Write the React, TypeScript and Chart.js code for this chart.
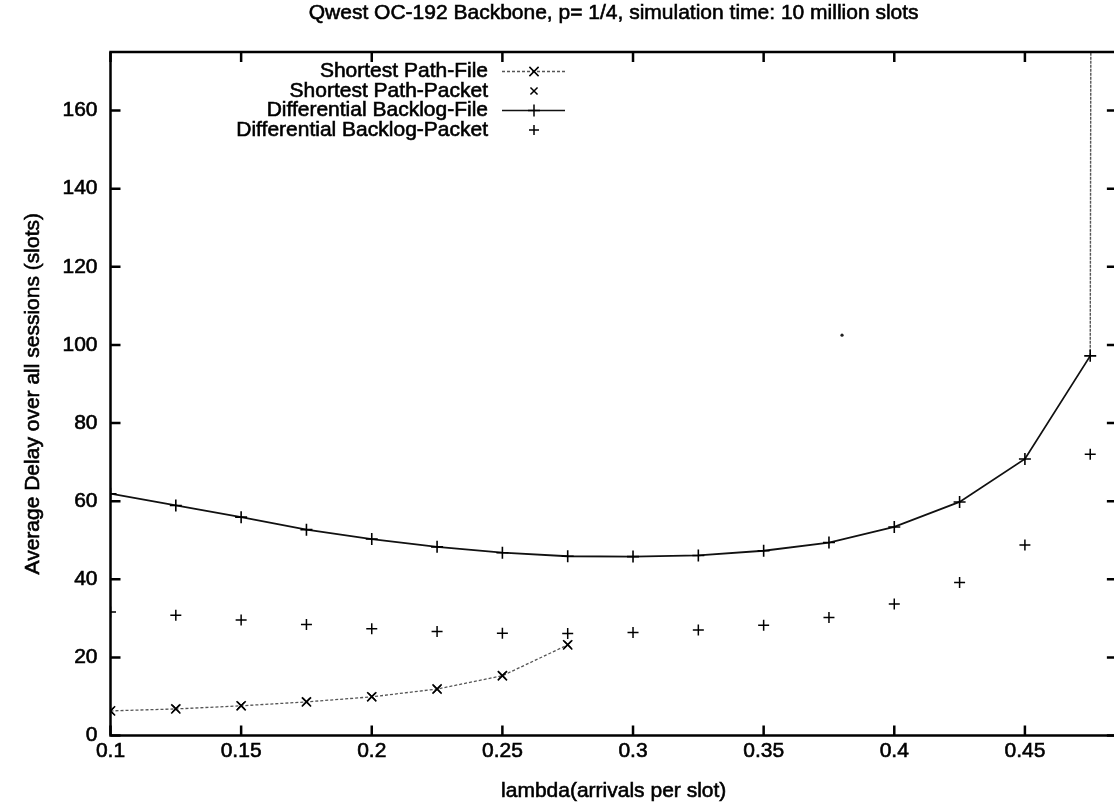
import React, { useEffect, useRef } from 'react';
import { Chart, registerables } from 'chart.js';

Chart.register(...registerables);

// ---- data ----
const lambdas = [0.1, 0.125, 0.15, 0.175, 0.2, 0.225, 0.25, 0.275, 0.3, 0.325, 0.35, 0.375, 0.4, 0.425, 0.45, 0.475];
const shortestLambdas = [0.1, 0.125, 0.15, 0.175, 0.2, 0.225, 0.25, 0.275];
const shortestPathFile = [6.3, 6.8, 7.6, 8.6, 9.9, 11.9, 15.3, 23.2];
const shortestPathPacket = [6.3, 6.9, 7.7, 8.7, 10.0, 11.9, 15.4, 23.3];
const diffBacklogFile = [61.9, 58.9, 55.9, 52.7, 50.3, 48.3, 46.8, 45.9, 45.8, 46.1, 47.3, 49.4, 53.4, 59.8, 70.8, 97.2];
const diffBacklogFileOverflow = { lambda: 0.5, delay: 20000 }; // off-scale point that gives the vertical rise
const diffBacklogPacket = [31.6, 30.8, 29.6, 28.4, 27.3, 26.6, 26.2, 26.1, 26.4, 27.0, 28.2, 30.2, 33.7, 39.2, 48.8, 72.0];
const strayDot = { lambda: 0.38, delay: 102.5 };

const xTickValues = [0.1, 0.15, 0.2, 0.25, 0.3, 0.35, 0.4, 0.45];
const yTickValues = [0, 20, 40, 60, 80, 100, 120, 140, 160];
const xRange = { min: 0.1, max: 0.4841, frame: 0.4852 };
const yRange = { min: 0, max: 175 };

const titleText = 'Qwest OC-192 Backbone, p= 1/4, simulation time: 10 million slots';
const xTitle = 'lambda(arrivals per slot)';
const yTitle = 'Average Delay over all sessions (slots)';
const legendLabels = ['Shortest Path-File', 'Shortest Path-Packet', 'Differential Backlog-File', 'Differential Backlog-Packet'];

const FONT_FAMILY = '"Liberation Sans", Arial, Helvetica, sans-serif';
const FONT_SIZE = 21;
const TEXT_STROKE = 0.6;

function drawMarker(ctx: CanvasRenderingContext2D, style: string, x: number, y: number, r: number) {
  ctx.beginPath();
  if (style === 'cross') {
    ctx.moveTo(x - r, y);
    ctx.lineTo(x + r, y);
    ctx.moveTo(x, y - r);
    ctx.lineTo(x, y + r);
  } else {
    const d = r * Math.SQRT1_2;
    ctx.moveTo(x - d, y - d);
    ctx.lineTo(x + d, y + d);
    ctx.moveTo(x - d, y + d);
    ctx.lineTo(x + d, y - d);
  }
  ctx.stroke();
}

function heavyText(ctx: CanvasRenderingContext2D, text: string, x: number, y: number) {
  ctx.fillText(text, x, y);
  ctx.lineWidth = TEXT_STROKE;
  ctx.strokeText(text, x, y);
}

const framePlugin = {
  id: 'gnuplotFrame',
  afterDraw(chart: any) {
    const { ctx, chartArea, scales } = chart;
    const { left, top, bottom } = chartArea;
    const right = scales.x.getPixelForValue(xRange.frame);
    ctx.save();
    ctx.strokeStyle = '#000';
    ctx.lineWidth = 2.5;
    ctx.strokeRect(left, top, right - left, bottom - top);
    const tl = 10;
    ctx.beginPath();
    for (const v of xTickValues) {
      const px = scales.x.getPixelForValue(v);
      ctx.moveTo(px, bottom);
      ctx.lineTo(px, bottom - tl);
      ctx.moveTo(px, top);
      ctx.lineTo(px, top + tl);
    }
    for (const v of yTickValues) {
      const py = scales.y.getPixelForValue(v);
      ctx.moveTo(left, py);
      ctx.lineTo(left + tl, py);
      ctx.moveTo(right, py);
      ctx.lineTo(right - tl, py);
    }
    ctx.stroke();

    ctx.fillStyle = '#000';
    ctx.strokeStyle = '#000';
    ctx.font = `${FONT_SIZE}px ${FONT_FAMILY}`;
    ctx.textBaseline = 'middle';

    const midX = (left + right) / 2;
    ctx.textAlign = 'center';
    heavyText(ctx, titleText, midX, 13);
    heavyText(ctx, xTitle, midX, 791);
    ctx.save();
    ctx.translate(33, (top + bottom) / 2);
    ctx.rotate(-Math.PI / 2);
    heavyText(ctx, yTitle, 0, 0);
    ctx.restore();

    // legend (gnuplot style: right-aligned text, sample to the right)
    const textRight = 488;
    const sampleL = 502;
    const sampleR = 565;
    const sampleMid = 534;
    const rowY = [71.5, 91, 110.5, 130];
    const samples = [
      { line: true, dash: [3, 2], color: '#555', width: 1.3, marker: 'crossRot', r: 6.5 },
      { line: false, dash: [], color: '#000', width: 1.3, marker: 'crossRot', r: 5 },
      { line: true, dash: [], color: '#111', width: 1.6, marker: 'cross', r: 6 },
      { line: false, dash: [], color: '#000', width: 1.3, marker: 'cross', r: 5 },
    ];
    ctx.textAlign = 'right';
    legendLabels.forEach((label, i) => {
      const y = rowY[i];
      ctx.fillStyle = '#000';
      ctx.strokeStyle = '#000';
      heavyText(ctx, label, textRight, y);
      const s = samples[i];
      if (s.line) {
        ctx.save();
        ctx.strokeStyle = s.color;
        ctx.lineWidth = s.width;
        ctx.setLineDash(s.dash);
        ctx.beginPath();
        ctx.moveTo(sampleL, y);
        ctx.lineTo(sampleR, y);
        ctx.stroke();
        ctx.restore();
      }
      ctx.strokeStyle = '#000';
      ctx.lineWidth = 1.5;
      ctx.setLineDash([]);
      drawMarker(ctx, s.marker, sampleMid, y, s.r);
    });
    ctx.restore();
  },
};

export default function App() {
  const canvasRef = useRef<HTMLCanvasElement | null>(null);

  useEffect(() => {
    document.body.style.margin = '0';
    const canvas = canvasRef.current;
    if (!canvas) return;

    const font = { family: FONT_FAMILY, size: FONT_SIZE };
    const lastDbIndex = lambdas.length - 1;

    const chart = new Chart(canvas, {
      type: 'scatter',
      data: {
        datasets: [
          {
            label: legendLabels[0],
            data: shortestLambdas.map((x, i) => ({ x, y: shortestPathFile[i] })),
            showLine: true,
            borderColor: '#555',
            borderWidth: 1.3,
            borderDash: [3, 2],
            pointStyle: 'crossRot',
            pointRadius: 6.5,
            pointBorderColor: '#000',
            pointBorderWidth: 1.6,
            backgroundColor: '#000',
          },
          {
            label: legendLabels[1],
            data: shortestLambdas.map((x, i) => ({ x, y: shortestPathPacket[i] })),
            showLine: false,
            pointStyle: 'crossRot',
            pointRadius: 5,
            pointBorderColor: '#000',
            pointBorderWidth: 1.2,
            backgroundColor: '#000',
          },
          {
            label: legendLabels[2],
            data: [
              ...lambdas.map((x, i) => ({ x, y: diffBacklogFile[i] })),
              { x: diffBacklogFileOverflow.lambda, y: diffBacklogFileOverflow.delay },
            ],
            showLine: true,
            borderColor: '#111',
            borderWidth: 1.8,
            segment: {
              borderColor: (c: any) => (c.p0DataIndex === lastDbIndex ? '#555' : undefined),
              borderWidth: (c: any) => (c.p0DataIndex === lastDbIndex ? 1.4 : undefined),
              borderDash: (c: any) => (c.p0DataIndex === lastDbIndex ? [3, 1] : undefined),
            },
            pointStyle: 'cross',
            pointRadius: 6,
            pointBorderColor: '#000',
            pointBorderWidth: 1.6,
            backgroundColor: '#000',
          },
          {
            label: legendLabels[3],
            data: lambdas.map((x, i) => ({ x, y: diffBacklogPacket[i] })),
            showLine: false,
            pointStyle: 'cross',
            pointRadius: 5.5,
            pointBorderColor: '#000',
            pointBorderWidth: 1.5,
            backgroundColor: '#000',
          },
          {
            label: 'stray',
            data: [{ x: strayDot.lambda, y: strayDot.delay }],
            showLine: false,
            pointStyle: 'circle',
            pointRadius: 1.6,
            pointBorderWidth: 0,
            backgroundColor: '#222',
          },
        ],
      },
      options: {
        responsive: false,
        animation: false,
        devicePixelRatio: 1,
        events: [],
        layout: { autoPadding: false, padding: { top: 52, right: 0, left: 0, bottom: 0 } },
        plugins: {
          legend: { display: false },
          title: { display: false },
          tooltip: { enabled: false },
        },
        scales: {
          x: {
            type: 'linear',
            min: xRange.min,
            max: xRange.max,
            afterBuildTicks: (s: any) => {
              s.ticks = xTickValues.map((v) => ({ value: v }));
            },
            afterFit: (s: any) => {
              s.height = 71.5;
              s.paddingLeft = 0;
              s.paddingRight = 0;
            },
            grid: { display: false, drawTicks: false },
            border: { display: false },
            ticks: {
              padding: 3,
              color: '#000',
              font,
              maxRotation: 0,
              autoSkip: false,
              textStrokeColor: '#000',
              textStrokeWidth: TEXT_STROKE,
              callback: (v: any) => String(v),
            },
            title: { display: false },
          },
          y: {
            type: 'linear',
            min: yRange.min,
            max: yRange.max,
            afterBuildTicks: (s: any) => {
              s.ticks = yTickValues.map((v) => ({ value: v }));
            },
            afterFit: (s: any) => {
              s.width = 110.5;
              s.paddingTop = 0;
              s.paddingBottom = 0;
            },
            grid: { display: false, drawTicks: false },
            border: { display: false },
            ticks: {
              padding: 13,
              color: '#000',
              font,
              autoSkip: false,
              textStrokeColor: '#000',
              textStrokeWidth: TEXT_STROKE,
              callback: (v: any) => String(v),
            },
            title: { display: false },
          },
        },
      },
      plugins: [framePlugin],
    } as any);

    return () => {
      chart.destroy();
    };
  }, []);

  return (
    <div style={{ position: 'absolute', left: 0, top: 0, width: 1114, height: 807, background: '#fff' }}>
      <canvas ref={canvasRef} width={1114} height={807} style={{ display: 'block' }} />
    </div>
  );
}
